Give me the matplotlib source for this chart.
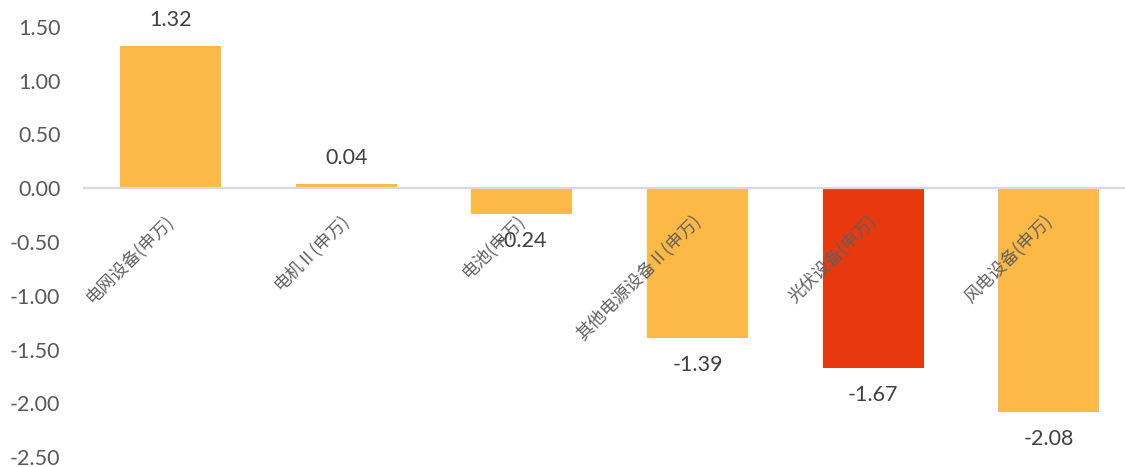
import matplotlib
matplotlib.use("Agg")
import matplotlib.pyplot as plt
import numpy as np

plt.rcParams['font.family'] = ['Lato', 'Noto Sans CJK SC', 'DejaVu Sans']
plt.rcParams['axes.unicode_minus'] = False

# data
categories = ['电网设备(申万)', '电机Ⅱ(申万)', '电池(申万)', '其他电源设备Ⅱ(申万)', '光伏设备(申万)', '风电设备(申万)']
values = [1.32, 0.04, -0.24, -1.39, -1.67, -2.08]
colors = ['#FDB946', '#FDB946', '#FDB946', '#FDB946', '#E8390E', '#FDB946']
yticks = [-2.5, -2.0, -1.5, -1.0, -0.5, 0.0, 0.5, 1.0, 1.5]

W, H = 1125, 467
fig = plt.figure(figsize=(W / 100, H / 100), dpi=100)
ax = fig.add_axes([82.65 / W, (H - 457) / H, (W - 82.65) / W, 430 / H])

x = np.arange(len(categories))
ax.bar(x, values, width=0.575, color=colors, zorder=2)
ax.axhline(0, color='#d9d9d9', lw=1.6, zorder=3)

ax.set_xlim(-0.5, 5.433)
ax.set_ylim(-2.5, 1.5)
ax.set_yticks(yticks)
ax.set_yticklabels([f"{t:.2f}" for t in yticks])
ax.tick_params(axis='y', length=0, pad=16, labelsize=15.5, labelcolor='#595959')
ax.set_xticks([])
for s in ax.spines.values():
    s.set_visible(False)

# value labels
for xi, v in zip(x, values):
    off = 19 if v >= 0 else -19.5
    ax.annotate(f"{v:.2f}", (xi, v), xytext=(0, off), textcoords='offset points',
                ha='center', va='center', fontsize=15.5, color='#404040',
                annotation_clip=False, zorder=5)

# rotated category labels just under the zero line
for xi, c in zip(x, categories):
    ax.annotate(c, (xi, 0), xytext=(0, -21), textcoords='offset points',
                ha='right', va='center', rotation=45, rotation_mode='anchor',
                fontsize=12.5, color='#606060',
                family=['Noto Sans CJK SC', 'DejaVu Sans'], zorder=6)

fig.savefig("out.png", dpi=100)
